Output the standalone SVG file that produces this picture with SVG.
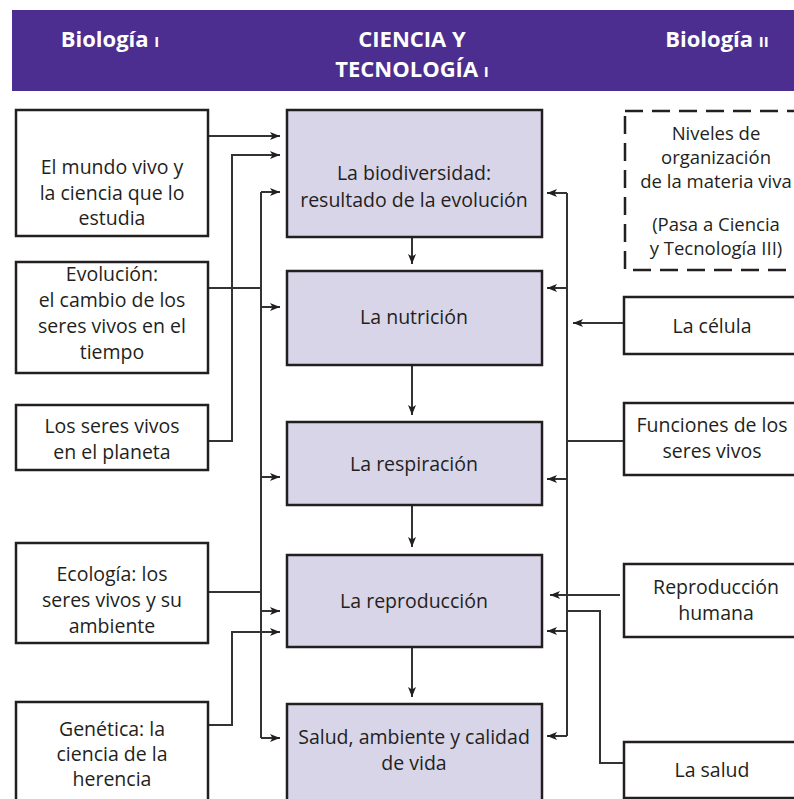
<svg xmlns="http://www.w3.org/2000/svg" width="794" height="799" viewBox="0 0 794 799">
<defs>
<marker id="ah" viewBox="0 0 10 8" refX="10" refY="4" markerWidth="10" markerHeight="8" markerUnits="userSpaceOnUse" orient="auto">
<path d="M0,0 L10,4 L0,8 L2.5,4 z" fill="#231f20"/>
</marker>
<style>
.hd{font-family:"Open Sans","DejaVu Sans",sans-serif;font-weight:bold;font-size:22px;fill:#ffffff;text-anchor:middle}
.sm{font-size:15px}
.t{font-family:"Open Sans","DejaVu Sans",sans-serif;font-size:19.5px;fill:#231f20;text-anchor:middle}
.tn{font-size:18.5px}
.box{fill:#ffffff;stroke:#231f20;stroke-width:2.5}
.cbox{fill:#d9d5e9;stroke:#231f20;stroke-width:2.5}
.dash{fill:#ffffff;stroke:#231f20;stroke-width:2.5;stroke-dasharray:18 9}
.c{fill:none;stroke:#333333;stroke-width:2}
.a{fill:none;stroke:#333333;stroke-width:2;marker-end:url(#ah)}
</style>
</defs>
<rect x="0" y="0" width="794" height="799" fill="#ffffff"/>
<g id="header">
<rect x="12" y="10" width="782" height="81" fill="#4b2e8f"/>
<text class="hd" x="110" y="47">Biología <tspan class="sm">I</tspan></text>
<text class="hd" x="412" y="47">CIENCIA Y</text>
<text class="hd" x="412" y="77">TECNOLOGÍA <tspan class="sm">I</tspan></text>
<text class="hd" x="717" y="47">Biología <tspan class="sm">II</tspan></text>
</g>
<g id="connectors">
<line class="a" x1="208" y1="136" x2="280" y2="136"/>
<polyline class="a" points="208,441 232,441 232,155 280,155"/>
<line class="c" x1="208" y1="288" x2="261" y2="288"/>
<line class="c" x1="261" y1="192" x2="261" y2="738"/>
<line class="a" x1="261" y1="192" x2="280" y2="192"/>
<line class="a" x1="261" y1="307" x2="280" y2="307"/>
<line class="a" x1="261" y1="477" x2="280" y2="477"/>
<line class="a" x1="261" y1="611" x2="280" y2="611"/>
<line class="a" x1="261" y1="738" x2="280" y2="738"/>
<line class="c" x1="208" y1="592" x2="261" y2="592"/>
<polyline class="a" points="208,725 232,725 232,632 280,632"/>
<line class="a" x1="412" y1="237" x2="412" y2="264"/>
<line class="a" x1="412" y1="365" x2="412" y2="415"/>
<line class="a" x1="412" y1="505" x2="412" y2="547"/>
<line class="a" x1="412" y1="647" x2="412" y2="697"/>
<line class="c" x1="567" y1="193" x2="567" y2="736"/>
<line class="a" x1="567" y1="193" x2="547" y2="193"/>
<line class="a" x1="567" y1="288" x2="547" y2="288"/>
<line class="a" x1="567" y1="479" x2="547" y2="479"/>
<line class="a" x1="567" y1="631" x2="547" y2="631"/>
<line class="a" x1="567" y1="736" x2="547" y2="736"/>
<line class="a" x1="624" y1="323" x2="573" y2="323"/>
<line class="c" x1="624" y1="441" x2="567" y2="441"/>
<line class="a" x1="620" y1="595" x2="550" y2="595"/>
<polyline class="c" points="624,763 600,763 600,611 567,611"/>
</g>
<g id="n-mundo">
<rect class="box" x="16" y="110" width="192" height="126"/>
<text class="t" x="112" y="174">El mundo vivo y</text>
<text class="t" x="112" y="200">la ciencia que lo</text>
<text class="t" x="112" y="225">estudia</text>
</g>
<g id="n-evolucion">
<rect class="box" x="16" y="262" width="192" height="111"/>
<text class="t" x="112" y="281">Evolución:</text>
<text class="t" x="112" y="307">el cambio de los</text>
<text class="t" x="112" y="333">seres vivos en el</text>
<text class="t" x="112" y="359">tiempo</text>
</g>
<g id="n-planeta">
<rect class="box" x="16" y="405" width="192" height="65"/>
<text class="t" x="112" y="433">Los seres vivos</text>
<text class="t" x="112" y="459">en el planeta</text>
</g>
<g id="n-ecologia">
<rect class="box" x="16" y="543" width="192" height="100"/>
<text class="t" x="112" y="581">Ecología: los</text>
<text class="t" x="112" y="607">seres vivos y su</text>
<text class="t" x="112" y="633">ambiente</text>
</g>
<g id="n-genetica">
<rect class="box" x="16" y="702" width="192" height="110"/>
<text class="t" x="112" y="736">Genética: la</text>
<text class="t" x="112" y="761">ciencia de la</text>
<text class="t" x="112" y="786">herencia</text>
</g>
<g id="n-biodiversidad">
<rect class="cbox" x="287" y="110" width="255" height="127"/>
<text class="t" x="414" y="180">La biodiversidad:</text>
<text class="t" x="414" y="207">resultado de la evolución</text>
</g>
<g id="n-nutricion">
<rect class="cbox" x="287" y="271" width="255" height="94"/>
<text class="t" x="414" y="324">La nutrición</text>
</g>
<g id="n-respiracion">
<rect class="cbox" x="287" y="422" width="255" height="83"/>
<text class="t" x="414" y="471">La respiración</text>
</g>
<g id="n-reproduccion">
<rect class="cbox" x="287" y="555" width="255" height="92"/>
<text class="t" x="414" y="608">La reproducción</text>
</g>
<g id="n-salud-ambiente">
<rect class="cbox" x="287" y="704" width="255" height="110"/>
<text class="t" x="414" y="744">Salud, ambiente y calidad</text>
<text class="t" x="414" y="770">de vida</text>
</g>
<g id="n-niveles">
<rect class="dash" x="625" y="111" width="190" height="159"/>
<text class="t tn" x="716" y="140">Niveles de</text>
<text class="t tn" x="716" y="164">organización</text>
<text class="t tn" x="716" y="188">de la materia viva</text>
<text class="t tn" x="716" y="231">(Pasa a Ciencia</text>
<text class="t tn" x="716" y="255">y Tecnología III)</text>
</g>
<g id="n-celula">
<rect class="box" x="624" y="297" width="190" height="57"/>
<text class="t" x="712" y="333">La célula</text>
</g>
<g id="n-funciones">
<rect class="box" x="624" y="403" width="190" height="72"/>
<text class="t" x="712" y="432">Funciones de los</text>
<text class="t" x="712" y="458">seres vivos</text>
</g>
<g id="n-repro-humana">
<rect class="box" x="624" y="564" width="190" height="73"/>
<text class="t" x="716" y="594">Reproducción</text>
<text class="t" x="716" y="620">humana</text>
</g>
<g id="n-la-salud">
<rect class="box" x="624" y="742" width="190" height="56"/>
<text class="t" x="712" y="777">La salud</text>
</g>
</svg>
